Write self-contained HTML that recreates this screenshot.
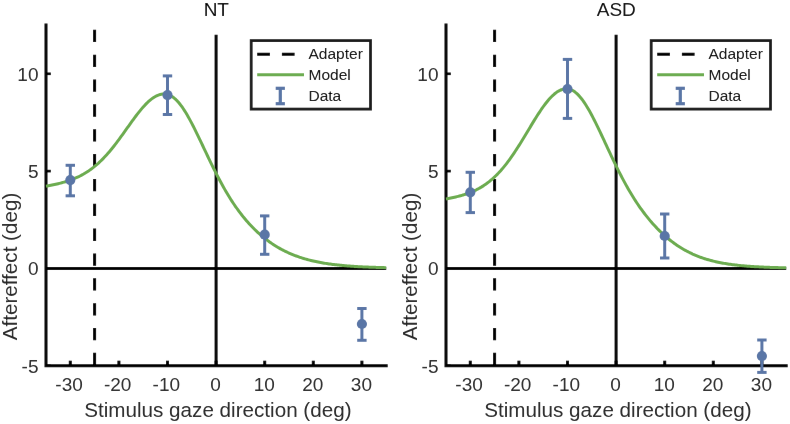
<!DOCTYPE html>
<html><head><meta charset="utf-8"><style>
html,body{margin:0;padding:0;background:#fff;}
svg{display:block;font-family:"Liberation Sans",sans-serif;will-change:transform;}
</style></head><body>
<svg width="790" height="424" viewBox="0 0 790 424" font-family="Liberation Sans">
<defs><filter id="bl" filterUnits="userSpaceOnUse" x="-10" y="-10" width="810" height="444"><feConvolveMatrix order="3" kernelMatrix="0.00027 0.01580 0.00027 0.01580 0.93575 0.01580 0.00027 0.01580 0.00027" edgeMode="duplicate" preserveAlpha="true"/></filter></defs>
<g filter="url(#bl)">
<rect x="-10" y="-10" width="810" height="444" fill="#fff"/>
<path d="M46.0,25.1 L46.0,365.7 L386.2,365.7" fill="none" stroke="#000" stroke-width="3" stroke-linecap="square"/>
<line x1="46.0" y1="365.7" x2="50.8" y2="365.7" stroke="#000" stroke-width="2.6"/>
<line x1="46.0" y1="268.4" x2="50.8" y2="268.4" stroke="#000" stroke-width="2.6"/>
<line x1="46.0" y1="171.1" x2="50.8" y2="171.1" stroke="#000" stroke-width="2.6"/>
<line x1="46.0" y1="73.8" x2="50.8" y2="73.8" stroke="#000" stroke-width="2.6"/>
<line x1="70.3" y1="365.7" x2="70.3" y2="360.7" stroke="#000" stroke-width="3"/>
<line x1="118.9" y1="365.7" x2="118.9" y2="360.7" stroke="#000" stroke-width="3"/>
<line x1="167.5" y1="365.7" x2="167.5" y2="360.7" stroke="#000" stroke-width="3"/>
<line x1="216.1" y1="365.7" x2="216.1" y2="360.7" stroke="#000" stroke-width="3"/>
<line x1="264.7" y1="365.7" x2="264.7" y2="360.7" stroke="#000" stroke-width="3"/>
<line x1="313.3" y1="365.7" x2="313.3" y2="360.7" stroke="#000" stroke-width="3"/>
<line x1="361.9" y1="365.7" x2="361.9" y2="360.7" stroke="#000" stroke-width="3"/>
<line x1="46.0" y1="268.4" x2="386.2" y2="268.4" stroke="#000" stroke-width="3"/>
<line x1="216.1" y1="365.7" x2="216.1" y2="34.8" stroke="#000" stroke-width="3"/>
<line x1="94.6" y1="29.8" x2="94.6" y2="365.7" stroke="#000" stroke-width="3" stroke-dasharray="12.3 12.55"/>
<path d="M46.00,186.23 L47.22,186.00 L48.43,185.77 L49.65,185.54 L50.86,185.30 L52.08,185.05 L53.29,184.79 L54.51,184.53 L55.72,184.26 L56.94,183.98 L58.15,183.69 L59.37,183.39 L60.58,183.08 L61.80,182.76 L63.01,182.42 L64.22,182.08 L65.44,181.71 L66.66,181.34 L67.87,180.95 L69.09,180.54 L70.30,180.11 L71.52,179.67 L72.73,179.21 L73.94,178.72 L75.16,178.22 L76.38,177.69 L77.59,177.14 L78.81,176.57 L80.02,175.97 L81.23,175.34 L82.45,174.69 L83.66,174.01 L84.88,173.29 L86.09,172.55 L87.31,171.78 L88.53,170.98 L89.74,170.14 L90.96,169.27 L92.17,168.37 L93.39,167.43 L94.60,166.45 L95.81,165.44 L97.03,164.39 L98.25,163.31 L99.46,162.19 L100.68,161.03 L101.89,159.84 L103.11,158.61 L104.32,157.34 L105.53,156.03 L106.75,154.69 L107.97,153.32 L109.18,151.91 L110.40,150.47 L111.61,148.99 L112.83,147.49 L114.04,145.95 L115.26,144.39 L116.47,142.80 L117.69,141.19 L118.90,139.56 L120.12,137.91 L121.33,136.24 L122.55,134.55 L123.76,132.86 L124.98,131.16 L126.19,129.45 L127.41,127.74 L128.62,126.03 L129.84,124.33 L131.05,122.63 L132.26,120.95 L133.48,119.28 L134.69,117.63 L135.91,116.01 L137.12,114.41 L138.34,112.85 L139.56,111.32 L140.77,109.83 L141.99,108.39 L143.20,106.99 L144.42,105.65 L145.63,104.36 L146.85,103.13 L148.06,101.96 L149.28,100.87 L150.49,99.84 L151.71,98.88 L152.92,98.01 L154.13,97.21 L155.35,96.50 L156.56,95.87 L157.78,95.33 L159.00,94.88 L160.21,94.52 L161.43,94.26 L162.64,94.09 L163.86,94.02 L165.07,94.05 L166.29,94.17 L167.50,94.42 L168.72,94.79 L169.93,95.29 L171.15,95.92 L172.36,96.67 L173.57,97.55 L174.79,98.56 L176.00,99.68 L177.22,100.92 L178.44,102.28 L179.65,103.74 L180.87,105.31 L182.08,106.99 L183.30,108.76 L184.51,110.62 L185.73,112.56 L186.94,114.59 L188.16,116.69 L189.37,118.87 L190.59,121.10 L191.80,123.40 L193.02,125.75 L194.23,128.14 L195.45,130.58 L196.66,133.05 L197.88,135.55 L199.09,138.07 L200.31,140.61 L201.52,143.17 L202.74,145.73 L203.95,148.30 L205.17,150.87 L206.38,153.44 L207.59,155.99 L208.81,158.53 L210.03,161.06 L211.24,163.56 L212.46,166.04 L213.67,168.50 L214.89,170.93 L216.10,173.33 L217.31,175.70 L218.53,178.03 L219.75,180.32 L220.96,182.58 L222.18,184.80 L223.39,186.98 L224.61,189.12 L225.82,191.22 L227.04,193.28 L228.25,195.30 L229.47,197.27 L230.68,199.21 L231.90,201.10 L233.11,202.95 L234.33,204.76 L235.54,206.53 L236.76,208.25 L237.97,209.94 L239.19,211.59 L240.40,213.20 L241.62,214.77 L242.83,216.31 L244.05,217.81 L245.26,219.27 L246.48,220.70 L247.69,222.09 L248.91,223.45 L250.12,224.77 L251.34,226.06 L252.55,227.32 L253.77,228.55 L254.98,229.75 L256.20,230.92 L257.41,232.06 L258.62,233.17 L259.84,234.25 L261.06,235.30 L262.27,236.33 L263.49,237.33 L264.70,238.30 L265.92,239.25 L267.13,240.17 L268.35,241.07 L269.56,241.95 L270.77,242.80 L271.99,243.63 L273.21,244.44 L274.42,245.22 L275.63,245.98 L276.85,246.72 L278.07,247.44 L279.28,248.14 L280.50,248.82 L281.71,249.48 L282.93,250.13 L284.14,250.75 L285.36,251.35 L286.57,251.94 L287.79,252.51 L289.00,253.06 L290.22,253.59 L291.43,254.11 L292.64,254.61 L293.86,255.10 L295.08,255.57 L296.29,256.02 L297.50,256.46 L298.72,256.89 L299.94,257.30 L301.15,257.70 L302.37,258.09 L303.58,258.46 L304.80,258.83 L306.01,259.17 L307.23,259.51 L308.44,259.84 L309.66,260.15 L310.87,260.46 L312.09,260.75 L313.30,261.03 L314.52,261.31 L315.73,261.57 L316.94,261.83 L318.16,262.07 L319.38,262.31 L320.59,262.54 L321.81,262.76 L323.02,262.97 L324.24,263.17 L325.45,263.37 L326.67,263.56 L327.88,263.74 L329.10,263.92 L330.31,264.09 L331.53,264.25 L332.74,264.41 L333.96,264.56 L335.17,264.71 L336.38,264.85 L337.60,264.98 L338.81,265.11 L340.03,265.24 L341.25,265.36 L342.46,265.48 L343.68,265.59 L344.89,265.70 L346.11,265.80 L347.32,265.90 L348.54,265.99 L349.75,266.09 L350.97,266.17 L352.18,266.26 L353.40,266.34 L354.61,266.42 L355.83,266.50 L357.04,266.57 L358.25,266.64 L359.47,266.71 L360.69,266.77 L361.90,266.83 L363.12,266.89 L364.33,266.95 L365.55,267.00 L366.76,267.06 L367.98,267.11 L369.19,267.16 L370.41,267.20 L371.62,267.25 L372.84,267.29 L374.05,267.33 L375.27,267.37 L376.48,267.41 L377.70,267.45 L378.91,267.49 L380.12,267.52 L381.34,267.55 L382.56,267.58 L383.77,267.61 L384.99,267.64 L386.20,267.67" fill="none" stroke="#6cac4f" stroke-width="3" stroke-linejoin="round"/>
<g stroke="#5a76a6" stroke-width="3"><line x1="70.3" y1="165.3" x2="70.3" y2="195.8"/><line x1="65.6" y1="165.3" x2="75.0" y2="165.3"/><line x1="65.6" y1="195.8" x2="75.0" y2="195.8"/></g>
<circle cx="70.3" cy="180.1" r="5.1" fill="#5a76a6"/>
<g stroke="#5a76a6" stroke-width="3"><line x1="167.5" y1="75.9" x2="167.5" y2="114.5"/><line x1="162.8" y1="75.9" x2="172.2" y2="75.9"/><line x1="162.8" y1="114.5" x2="172.2" y2="114.5"/></g>
<circle cx="167.5" cy="95.1" r="5.1" fill="#5a76a6"/>
<g stroke="#5a76a6" stroke-width="3"><line x1="264.7" y1="215.9" x2="264.7" y2="254.3"/><line x1="260.0" y1="215.9" x2="269.4" y2="215.9"/><line x1="260.0" y1="254.3" x2="269.4" y2="254.3"/></g>
<circle cx="264.7" cy="234.7" r="5.1" fill="#5a76a6"/>
<g stroke="#5a76a6" stroke-width="3"><line x1="361.9" y1="308.5" x2="361.9" y2="340.3"/><line x1="357.2" y1="308.5" x2="366.6" y2="308.5"/><line x1="357.2" y1="340.3" x2="366.6" y2="340.3"/></g>
<circle cx="361.9" cy="324.0" r="5.1" fill="#5a76a6"/>
<text x="38.5" y="372.5" text-anchor="end" font-size="19" fill="#262626">-5</text>
<text x="38.5" y="275.2" text-anchor="end" font-size="19" fill="#262626">0</text>
<text x="38.5" y="177.9" text-anchor="end" font-size="19" fill="#262626">5</text>
<text x="38.5" y="80.5" text-anchor="end" font-size="19" fill="#262626">10</text>
<text x="69.1" y="390.8" text-anchor="middle" font-size="19" fill="#262626">-30</text>
<text x="117.7" y="390.8" text-anchor="middle" font-size="19" fill="#262626">-20</text>
<text x="166.3" y="390.8" text-anchor="middle" font-size="19" fill="#262626">-10</text>
<text x="215.6" y="390.8" text-anchor="middle" font-size="19" fill="#262626">0</text>
<text x="264.2" y="390.8" text-anchor="middle" font-size="19" fill="#262626">10</text>
<text x="312.8" y="390.8" text-anchor="middle" font-size="19" fill="#262626">20</text>
<text x="361.4" y="390.8" text-anchor="middle" font-size="19" fill="#262626">30</text>
<text x="216.3" y="15.6" text-anchor="middle" font-size="19" fill="#000">NT</text>
<text x="217.9" y="416.8" text-anchor="middle" font-size="20.65" fill="#262626">Stimulus gaze direction (deg)</text>
<text transform="translate(17.3,266.50) rotate(-90)" x="0" y="0" text-anchor="middle" font-size="20.65" fill="#262626">Aftereffect (deg)</text>
<rect x="251.2" y="40.6" width="119.3" height="68.5" fill="#fff" stroke="#1a1a1a" stroke-width="2.8"/>
<line x1="257.2" y1="54.2" x2="294.6" y2="54.2" stroke="#000" stroke-width="3" stroke-dasharray="12.7 12"/>
<line x1="257.2" y1="74.8" x2="304.0" y2="74.8" stroke="#6cac4f" stroke-width="3"/>
<g stroke="#5a76a6" stroke-width="3.2"><line x1="280.3" y1="88.3" x2="280.3" y2="103.7"/><line x1="275.7" y1="88.3" x2="284.9" y2="88.3"/><line x1="275.7" y1="103.7" x2="284.9" y2="103.7"/></g>
<text x="308.5" y="59.0" font-size="15.5" fill="#000">Adapter</text>
<text x="308.5" y="79.9" font-size="15.5" fill="#000">Model</text>
<text x="308.5" y="100.8" font-size="15.5" fill="#000">Data</text>
<path d="M446.0,25.1 L446.0,365.7 L786.2,365.7" fill="none" stroke="#000" stroke-width="3" stroke-linecap="square"/>
<line x1="446.0" y1="365.7" x2="450.8" y2="365.7" stroke="#000" stroke-width="2.6"/>
<line x1="446.0" y1="268.4" x2="450.8" y2="268.4" stroke="#000" stroke-width="2.6"/>
<line x1="446.0" y1="171.1" x2="450.8" y2="171.1" stroke="#000" stroke-width="2.6"/>
<line x1="446.0" y1="73.8" x2="450.8" y2="73.8" stroke="#000" stroke-width="2.6"/>
<line x1="470.3" y1="365.7" x2="470.3" y2="360.7" stroke="#000" stroke-width="3"/>
<line x1="518.9" y1="365.7" x2="518.9" y2="360.7" stroke="#000" stroke-width="3"/>
<line x1="567.5" y1="365.7" x2="567.5" y2="360.7" stroke="#000" stroke-width="3"/>
<line x1="616.1" y1="365.7" x2="616.1" y2="360.7" stroke="#000" stroke-width="3"/>
<line x1="664.7" y1="365.7" x2="664.7" y2="360.7" stroke="#000" stroke-width="3"/>
<line x1="713.3" y1="365.7" x2="713.3" y2="360.7" stroke="#000" stroke-width="3"/>
<line x1="761.9" y1="365.7" x2="761.9" y2="360.7" stroke="#000" stroke-width="3"/>
<line x1="446.0" y1="268.4" x2="786.2" y2="268.4" stroke="#000" stroke-width="3"/>
<line x1="616.1" y1="365.7" x2="616.1" y2="34.8" stroke="#000" stroke-width="3"/>
<line x1="494.6" y1="29.8" x2="494.6" y2="365.7" stroke="#000" stroke-width="3" stroke-dasharray="12.3 12.55"/>
<path d="M446.00,198.93 L447.21,198.71 L448.43,198.48 L449.64,198.25 L450.86,198.00 L452.07,197.75 L453.29,197.49 L454.50,197.22 L455.72,196.94 L456.94,196.65 L458.15,196.35 L459.37,196.03 L460.58,195.70 L461.80,195.36 L463.01,195.00 L464.23,194.63 L465.44,194.24 L466.65,193.83 L467.87,193.40 L469.08,192.96 L470.30,192.49 L471.51,192.00 L472.73,191.48 L473.94,190.94 L475.16,190.38 L476.38,189.79 L477.59,189.17 L478.81,188.52 L480.02,187.84 L481.24,187.14 L482.45,186.39 L483.67,185.62 L484.88,184.81 L486.10,183.96 L487.31,183.08 L488.52,182.16 L489.74,181.20 L490.95,180.19 L492.17,179.15 L493.38,178.07 L494.60,176.95 L495.81,175.78 L497.03,174.57 L498.25,173.32 L499.46,172.02 L500.68,170.68 L501.89,169.29 L503.11,167.86 L504.32,166.39 L505.54,164.87 L506.75,163.31 L507.97,161.71 L509.18,160.07 L510.39,158.39 L511.61,156.67 L512.83,154.91 L514.04,153.12 L515.25,151.29 L516.47,149.43 L517.68,147.55 L518.90,145.63 L520.12,143.69 L521.33,141.73 L522.54,139.75 L523.76,137.75 L524.98,135.74 L526.19,133.73 L527.40,131.70 L528.62,129.68 L529.84,127.65 L531.05,125.64 L532.26,123.63 L533.48,121.64 L534.70,119.66 L535.91,117.71 L537.12,115.79 L538.34,113.90 L539.56,112.05 L540.77,110.24 L541.99,108.47 L543.20,106.75 L544.41,105.09 L545.63,103.49 L546.85,101.95 L548.06,100.47 L549.27,99.07 L550.49,97.74 L551.71,96.50 L552.92,95.33 L554.13,94.26 L555.35,93.27 L556.57,92.37 L557.78,91.57 L559.00,90.87 L560.21,90.26 L561.42,89.76 L562.64,89.37 L563.86,89.07 L565.07,88.89 L566.28,88.81 L567.50,88.84 L568.72,89.01 L569.93,89.31 L571.14,89.75 L572.36,90.32 L573.58,91.03 L574.79,91.86 L576.00,92.83 L577.22,93.92 L578.43,95.13 L579.65,96.46 L580.87,97.91 L582.08,99.47 L583.30,101.13 L584.51,102.89 L585.73,104.75 L586.94,106.70 L588.15,108.73 L589.37,110.84 L590.59,113.03 L591.80,115.28 L593.01,117.59 L594.23,119.96 L595.45,122.38 L596.66,124.84 L597.88,127.34 L599.09,129.88 L600.31,132.43 L601.52,135.01 L602.74,137.61 L603.95,140.21 L605.16,142.83 L606.38,145.44 L607.60,148.05 L608.81,150.65 L610.02,153.24 L611.24,155.82 L612.46,158.38 L613.67,160.92 L614.88,163.43 L616.10,165.92 L617.32,168.37 L618.53,170.80 L619.75,173.19 L620.96,175.55 L622.17,177.87 L623.39,180.16 L624.61,182.41 L625.82,184.62 L627.04,186.79 L628.25,188.92 L629.47,191.01 L630.68,193.06 L631.89,195.07 L633.11,197.04 L634.33,198.96 L635.54,200.86 L636.75,202.71 L637.97,204.52 L639.18,206.29 L640.40,208.03 L641.62,209.73 L642.83,211.39 L644.05,213.01 L645.26,214.60 L646.48,216.16 L647.69,217.68 L648.90,219.16 L650.12,220.62 L651.34,222.04 L652.55,223.43 L653.76,224.78 L654.98,226.11 L656.20,227.40 L657.41,228.67 L658.62,229.90 L659.84,231.11 L661.06,232.29 L662.27,233.43 L663.49,234.56 L664.70,235.65 L665.91,236.71 L667.13,237.75 L668.35,238.77 L669.56,239.75 L670.77,240.71 L671.99,241.65 L673.21,242.56 L674.42,243.44 L675.63,244.30 L676.85,245.14 L678.07,245.96 L679.28,246.75 L680.50,247.51 L681.71,248.26 L682.92,248.98 L684.14,249.69 L685.36,250.37 L686.57,251.03 L687.79,251.67 L689.00,252.28 L690.22,252.88 L691.43,253.46 L692.64,254.03 L693.86,254.57 L695.08,255.09 L696.29,255.60 L697.50,256.09 L698.72,256.57 L699.94,257.03 L701.15,257.47 L702.37,257.89 L703.58,258.30 L704.80,258.70 L706.01,259.08 L707.23,259.45 L708.44,259.81 L709.65,260.15 L710.87,260.48 L712.09,260.80 L713.30,261.10 L714.52,261.40 L715.73,261.68 L716.94,261.95 L718.16,262.21 L719.38,262.47 L720.59,262.71 L721.81,262.94 L723.02,263.16 L724.24,263.38 L725.45,263.59 L726.66,263.78 L727.88,263.97 L729.10,264.16 L730.31,264.33 L731.53,264.50 L732.74,264.66 L733.96,264.82 L735.17,264.97 L736.38,265.11 L737.60,265.25 L738.82,265.38 L740.03,265.50 L741.25,265.62 L742.46,265.74 L743.67,265.85 L744.89,265.96 L746.11,266.06 L747.32,266.16 L748.54,266.25 L749.75,266.34 L750.97,266.43 L752.18,266.51 L753.39,266.59 L754.61,266.66 L755.83,266.74 L757.04,266.80 L758.25,266.87 L759.47,266.93 L760.68,267.00 L761.90,267.05 L763.12,267.11 L764.33,267.16 L765.55,267.21 L766.76,267.26 L767.98,267.31 L769.19,267.36 L770.40,267.40 L771.62,267.44 L772.84,267.48 L774.05,267.52 L775.27,267.55 L776.48,267.59 L777.70,267.62 L778.91,267.65 L780.12,267.68 L781.34,267.71 L782.56,267.74 L783.77,267.77 L784.99,267.79 L786.20,267.81" fill="none" stroke="#6cac4f" stroke-width="3" stroke-linejoin="round"/>
<g stroke="#5a76a6" stroke-width="3"><line x1="470.3" y1="172.3" x2="470.3" y2="212.6"/><line x1="465.6" y1="172.3" x2="475.0" y2="172.3"/><line x1="465.6" y1="212.6" x2="475.0" y2="212.6"/></g>
<circle cx="470.3" cy="192.3" r="5.1" fill="#5a76a6"/>
<g stroke="#5a76a6" stroke-width="3"><line x1="567.5" y1="59.4" x2="567.5" y2="118.4"/><line x1="562.8" y1="59.4" x2="572.2" y2="59.4"/><line x1="562.8" y1="118.4" x2="572.2" y2="118.4"/></g>
<circle cx="567.5" cy="89.1" r="5.1" fill="#5a76a6"/>
<g stroke="#5a76a6" stroke-width="3"><line x1="664.7" y1="214.0" x2="664.7" y2="258.0"/><line x1="660.0" y1="214.0" x2="669.4" y2="214.0"/><line x1="660.0" y1="258.0" x2="669.4" y2="258.0"/></g>
<circle cx="664.7" cy="236.0" r="5.1" fill="#5a76a6"/>
<g stroke="#5a76a6" stroke-width="3"><line x1="761.9" y1="340.0" x2="761.9" y2="372.4"/><line x1="757.2" y1="340.0" x2="766.6" y2="340.0"/><line x1="757.2" y1="372.4" x2="766.6" y2="372.4"/></g>
<circle cx="761.9" cy="356.1" r="5.1" fill="#5a76a6"/>
<text x="438.5" y="372.5" text-anchor="end" font-size="19" fill="#262626">-5</text>
<text x="438.5" y="275.2" text-anchor="end" font-size="19" fill="#262626">0</text>
<text x="438.5" y="177.9" text-anchor="end" font-size="19" fill="#262626">5</text>
<text x="438.5" y="80.5" text-anchor="end" font-size="19" fill="#262626">10</text>
<text x="469.1" y="390.8" text-anchor="middle" font-size="19" fill="#262626">-30</text>
<text x="517.7" y="390.8" text-anchor="middle" font-size="19" fill="#262626">-20</text>
<text x="566.3" y="390.8" text-anchor="middle" font-size="19" fill="#262626">-10</text>
<text x="615.6" y="390.8" text-anchor="middle" font-size="19" fill="#262626">0</text>
<text x="664.2" y="390.8" text-anchor="middle" font-size="19" fill="#262626">10</text>
<text x="712.8" y="390.8" text-anchor="middle" font-size="19" fill="#262626">20</text>
<text x="761.4" y="390.8" text-anchor="middle" font-size="19" fill="#262626">30</text>
<text x="616.3" y="15.6" text-anchor="middle" font-size="19" fill="#000">ASD</text>
<text x="617.9" y="416.8" text-anchor="middle" font-size="20.65" fill="#262626">Stimulus gaze direction (deg)</text>
<text transform="translate(417.3,266.50) rotate(-90)" x="0" y="0" text-anchor="middle" font-size="20.65" fill="#262626">Aftereffect (deg)</text>
<rect x="651.2" y="40.6" width="119.3" height="68.5" fill="#fff" stroke="#1a1a1a" stroke-width="2.8"/>
<line x1="657.2" y1="54.2" x2="694.6" y2="54.2" stroke="#000" stroke-width="3" stroke-dasharray="12.7 12"/>
<line x1="657.2" y1="74.8" x2="704.0" y2="74.8" stroke="#6cac4f" stroke-width="3"/>
<g stroke="#5a76a6" stroke-width="3.2"><line x1="680.3" y1="88.3" x2="680.3" y2="103.7"/><line x1="675.7" y1="88.3" x2="684.9" y2="88.3"/><line x1="675.7" y1="103.7" x2="684.9" y2="103.7"/></g>
<text x="708.5" y="59.0" font-size="15.5" fill="#000">Adapter</text>
<text x="708.5" y="79.9" font-size="15.5" fill="#000">Model</text>
<text x="708.5" y="100.8" font-size="15.5" fill="#000">Data</text>
</g>
</svg>
</body></html>
